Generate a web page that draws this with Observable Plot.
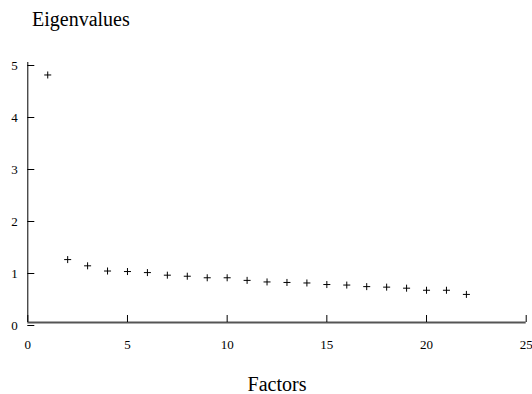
<!DOCTYPE html>
<html>
<head>
<meta charset="utf-8">
<script src="https://cdn.jsdelivr.net/npm/d3@7"></script>
<script src="https://cdn.jsdelivr.net/npm/@observablehq/plot@0.6"></script>
<style>
  html, body { margin: 0; padding: 0; background: #fff; overflow: hidden; }
  body { width: 532px; height: 394px; font-family: "Liberation Serif", "Times New Roman", serif; }
  #title { height: 40px; box-sizing: border-box; padding-top: 9px; padding-left: 32px; font-size: 20px; line-height: 20px; color: #000; }
  #xlabel { width: 532px; text-align: center; padding-left: 22px; box-sizing: border-box; font-size: 20px; line-height: 20px; color: #000; }
  svg { display: block; }
  #chart svg text { font-family: "Liberation Serif", "Times New Roman", serif; font-size: 13px; fill: #000; }
</style>
</head>
<body>
<div id="title">Eigenvalues</div>
<div id="chart"></div>
<div id="xlabel">Factors</div>
<script>
const factors = [1,2,3,4,5,6,7,8,9,10,11,12,13,14,15,16,17,18,19,20,21,22];
const eigenvalues = [4.76,1.21,1.09,0.99,0.98,0.96,0.91,0.89,0.86,0.86,0.81,0.78,0.77,0.76,0.73,0.72,0.69,0.68,0.66,0.62,0.62,0.54];
const xTicks = [0,5,10,15,20,25];
const yTicks = [0,1,2,3,4,5];

const data = factors.map((f, i) => ({factor: f, value: eigenvalues[i]}));

const chart = Plot.plot({
  width: 532,
  height: 334,
  marginLeft: 27.3,
  marginRight: 6.3,
  marginTop: 22,
  marginBottom: 52,
  style: {fontFamily: "Liberation Serif, Times New Roman, serif", fontSize: "13px", color: "#000", background: "#fff"},
  x: {domain: [0, 25]},
  y: {domain: [0, 5]},
  marks: [
    Plot.ruleX([0], {stroke: "#000", strokeWidth: 1}),
    Plot.ruleY([0], {stroke: "#555", strokeWidth: 2}),
    Plot.axisY({ticks: yTicks, tickFormat: d => String(d), tickSize: -7, tickPadding: 17, label: null, stroke: "#000", strokeOpacity: 1, dy: 3}),
    Plot.axisX({ticks: xTicks, tickFormat: d => String(d), tickSize: -7, tickPadding: 24, label: null, stroke: "#000", strokeOpacity: 1}),
    Plot.dot(data, {x: "factor", y: "value", symbol: "plus", r: 2.4, stroke: "#000", strokeWidth: 1})
  ]
});
document.getElementById("chart").appendChild(chart);
</script>
</body>
</html>
